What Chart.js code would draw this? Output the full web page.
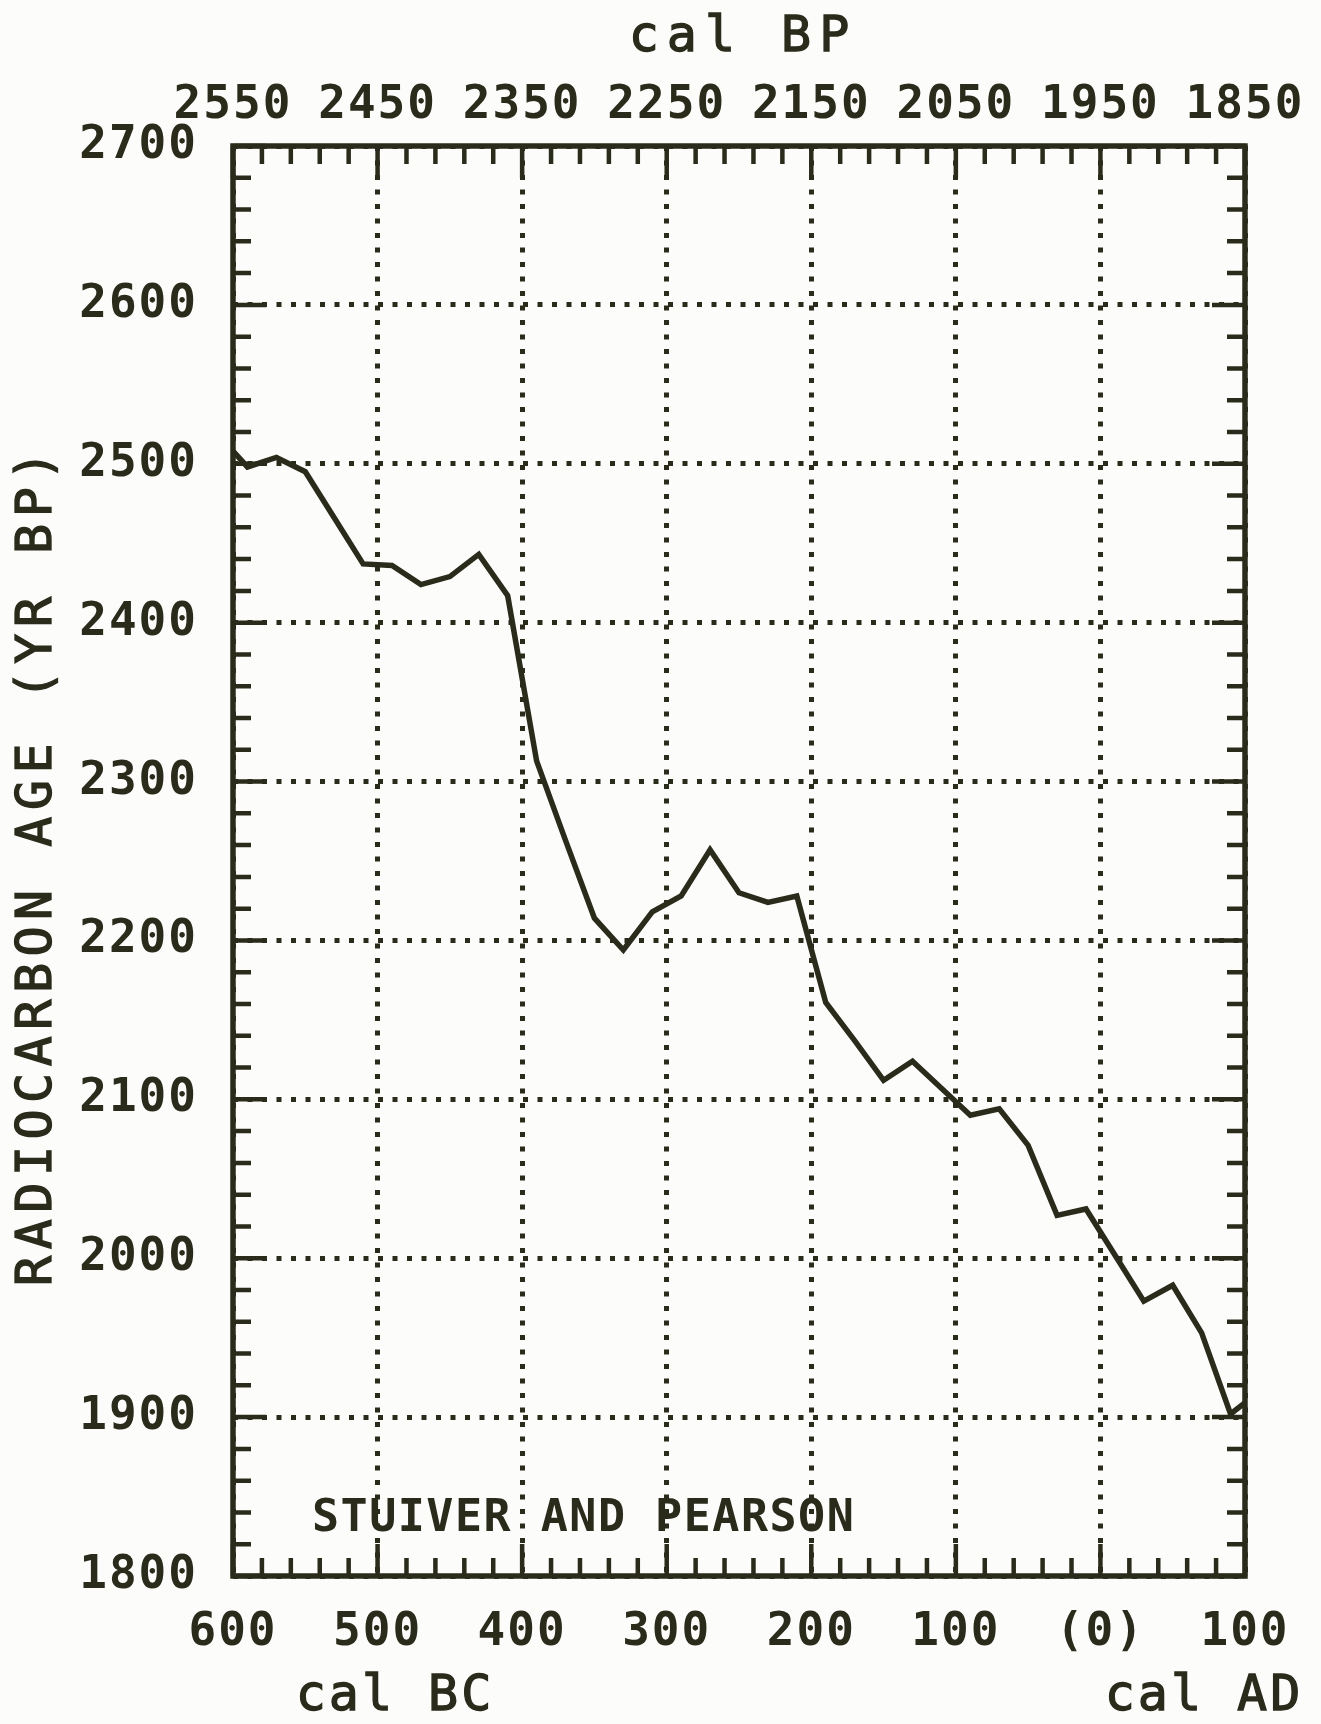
<!DOCTYPE html>
<html>
<head>
<meta charset="utf-8">
<script src="https://cdn.jsdelivr.net/npm/chart.js@4.4.1/dist/chart.umd.min.js"></script>
<style>
  html, body { margin: 0; padding: 0; background: #fcfcfa; }
  #wrap { width: 1321px; height: 1724px; }
</style>
</head>
<body>
<div id="wrap"><canvas id="calib" width="1321" height="1724"></canvas></div>
<script>
// calibrated year (negative = BC) against radiocarbon age, 20-year steps
var years = [-610, -590, -570, -550, -530, -510, -490, -470, -450, -430,
             -410, -390, -370, -350, -330, -310, -290, -270, -250, -230,
             -210, -190, -170, -150, -130, -110, -90, -70, -50, -30,
             -10, 10, 30, 50, 70, 90, 110];
var ages = [2518, 2498, 2504, 2495, 2466, 2437, 2436, 2424, 2429, 2443,
            2417, 2313, 2263, 2214, 2194, 2218, 2228, 2257, 2230, 2224,
            2228, 2161, 2137, 2112, 2124, 2107, 2090, 2094, 2071, 2027,
            2031, 2002, 1973, 1983, 1953, 1902, 1916];

// tick labels
var bcAdLabels = ['600', '500', '400', '300', '200', '100', '(0)', '100'];
var calBpLabels = ['2550', '2450', '2350', '2250', '2150', '2050', '1950', '1850'];
var ageLabels = ['1800', '1900', '2000', '2100', '2200', '2300', '2400', '2500', '2600', '2700'];

var INK = '#2b2b1c';
var MONO = '"DejaVu Sans Mono", "Liberation Mono", monospace';

var points = years.map(function(y, i) {
    return { x: y, y: ages[i] };
});

// medium-weight text: regular glyphs with a thin outline
function heavyText(ctx, s, x, y) {
    ctx.fillText(s, x, y);
    ctx.strokeText(s, x, y);
}

// frame, inward tick marks and the text around the plot
var frame = {
    id: 'frame',
    beforeDraw: function(chart) {
        chart.ctx.letterSpacing = '2px';
    },
    afterDatasetsDraw: function(chart) {
        var ctx = chart.ctx, a = chart.chartArea;
        var xs = chart.scales.x, ys = chart.scales.y;
        ctx.save();
        ctx.strokeStyle = INK;
        ctx.lineWidth = 4.5;
        ctx.beginPath();
        for (var v = -600; v <= 100; v += 20) {
            var px = xs.getPixelForValue(v);
            var len = (v % 100 === 0) ? 32 : 18;
            ctx.moveTo(px, a.top);
            ctx.lineTo(px, a.top + len);
            ctx.moveTo(px, a.bottom);
            ctx.lineTo(px, a.bottom - len);
        }
        for (var w = 1800; w <= 2700; w += 20) {
            var py = ys.getPixelForValue(w);
            var l2 = (w % 100 === 0) ? 33 : 18;
            ctx.moveTo(a.left, py);
            ctx.lineTo(a.left + l2, py);
            ctx.moveTo(a.right, py);
            ctx.lineTo(a.right - l2, py);
        }
        ctx.stroke();
        ctx.lineWidth = 5.5;
        ctx.strokeRect(a.left, a.top, a.right - a.left, a.bottom - a.top);
        ctx.restore();
    },
    afterDraw: function(chart) {
        var ctx = chart.ctx, a = chart.chartArea;
        ctx.save();
        ctx.fillStyle = INK;
        ctx.strokeStyle = INK;
        ctx.lineWidth = 1.3;
        ctx.textBaseline = 'middle';
        ctx.textAlign = 'center';
        ctx.font = '50px ' + MONO;

        ctx.letterSpacing = '8px';
        heavyText(ctx, 'cal BP', (a.left + a.right) / 2 + 4, 38);

        ctx.letterSpacing = '3px';
        heavyText(ctx, 'cal BC', 395, 1697);
        heavyText(ctx, 'cal AD', 1204, 1697);

        ctx.save();
        ctx.translate(38, (a.top + a.bottom) / 2 + 4);
        ctx.rotate(-Math.PI / 2);
        ctx.letterSpacing = '6.5px';
        heavyText(ctx, 'RADIOCARBON AGE (YR BP)', 0, 0);
        ctx.restore();

        ctx.font = 'bold 45px ' + MONO;
        ctx.letterSpacing = '1.5px';
        ctx.textAlign = 'left';
        ctx.fillText('STUIVER AND PEARSON', 312, 1519);
        ctx.restore();
    }
};

var dotted = {
    color: INK,
    lineWidth: 5,
    drawTicks: false,
    borderDash: [5, 9.5]
};

var ctx = document.getElementById('calib').getContext('2d');
var config = {
    type: 'line',
    data: {
        datasets: [{
            data: points,
            borderColor: INK,
            borderWidth: 5.5,
            pointRadius: 0,
            tension: 0,
            fill: false,
            clip: 0
        }]
    },
    options: {
        responsive: false,
        animation: false,
        events: [],
        layout: { padding: 0 },
        plugins: {
            legend: { display: false },
            tooltip: { enabled: false }
        },
        scales: {
            x: {
                type: 'linear',
                position: 'bottom',
                min: -600,
                max: 100,
                grid: dotted,
                border: { display: false, dash: [5, 9.5] },
                ticks: {
                    stepSize: 100,
                    autoSkip: false,
                    maxRotation: 0,
                    padding: 29,
                    color: INK,
                    font: { family: MONO, size: 46, weight: 'bold' },
                    callback: function(v, i) { return bcAdLabels[i]; }
                },
                afterFit: function(s) { s.height = 148; }
            },
            x2: {
                type: 'linear',
                position: 'top',
                min: -600,
                max: 100,
                grid: { display: false, drawTicks: false },
                border: { display: false },
                ticks: {
                    stepSize: 100,
                    autoSkip: false,
                    maxRotation: 0,
                    padding: 12,
                    color: INK,
                    font: { family: MONO, size: 46, weight: 'bold' },
                    callback: function(v, i) { return calBpLabels[i]; }
                },
                afterFit: function(s) { s.height = 146; }
            },
            y: {
                type: 'linear',
                position: 'left',
                min: 1800,
                max: 2700,
                grid: dotted,
                border: { display: false, dash: [5, 9.5] },
                ticks: {
                    stepSize: 100,
                    autoSkip: false,
                    padding: 35,
                    color: INK,
                    font: { family: MONO, size: 46, weight: 'bold' },
                    callback: function(v, i) { return ageLabels[i]; }
                },
                afterFit: function(s) { s.width = 233; }
            },
            y2: {
                type: 'linear',
                position: 'right',
                min: 1800,
                max: 2700,
                grid: { display: false, drawTicks: false },
                border: { display: false },
                ticks: { display: false },
                afterFit: function(s) { s.width = 76; }
            }
        }
    },
    plugins: [frame]
};

var chart = new Chart(ctx, config);
</script>
</body>
</html>
